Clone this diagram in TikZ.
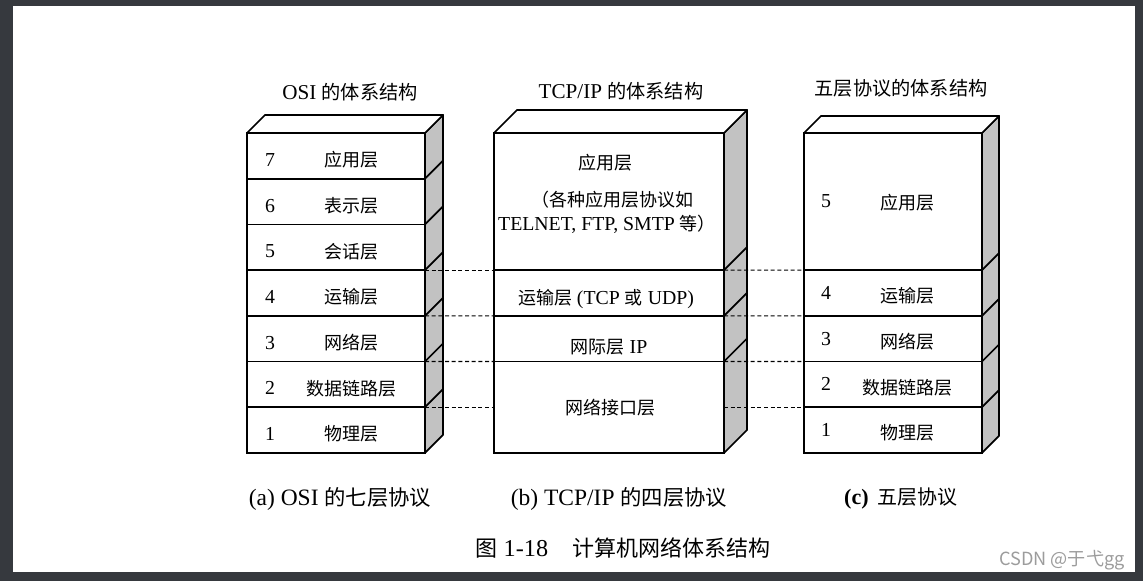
\documentclass[tikz,border=0pt]{standalone}
\usepackage{fontspec}
\setmainfont[Scale=1.1]{Liberation Serif}
\newfontfamily\cjk{Noto Sans CJK SC}
\newcommand{\zh}[1]{{\cjk #1}}
\usetikzlibrary{positioning}
\definecolor{framegray}{HTML}{36393E}
\definecolor{sidegray}{HTML}{C2C2C2}
\definecolor{markgray}{HTML}{9C9C9C}

\begin{document}
\begin{tikzpicture}[
        x=0.75pt, y=-0.75pt,
        layer/.style={draw, line width=1.3pt, fill=white, outer sep=0pt, inner sep=0pt, anchor=north west},
        osi layer/.style={layer, minimum width=133.5pt, minimum height=34.275pt},
        tcp layer/.style={layer, minimum width=172.5pt, minimum height=#1},
        five layer/.style={layer, minimum width=133.5pt, minimum height=#1},
        side face/.style={draw, line width=1.3pt, fill=sidegray, line join=round},
        top face/.style={draw, line width=1.3pt, fill=white, line join=round},
        edge line/.style={line width=1.3pt},
        link/.style={densely dashed, line width=0.8pt},
        num/.style={font=\fontsize{13.5}{16}\selectfont, inner sep=0pt},
        lbl/.style={font=\fontsize{13.5}{16}\selectfont, inner sep=0pt, align=center},
        head/.style={font=\fontsize{14.4}{17}\selectfont, inner sep=0pt},
        caption/.style={font=\fontsize{16}{19}\selectfont, inner sep=0pt},
    ]

    % Frame of the screenshot
    \fill[framegray] (0,0) rectangle (1143,581);
    \fill[white] (13,6) rectangle (1135,572);

    % (a) OSI stack
    \foreach \n/\name [count=\i from 0] in {7/应用层, 6/表示层, 5/会话层, 4/运输层, 3/网络层, 2/数据链路层, 1/物理层} {
        \node[osi layer] (osi\n) at (247, {133+45.7*\i}) {};
        \node[num] (osinum\n) at ([shift={(23,4)}]osi\n.west) {\n};
        \node[lbl] (osilbl\n) at ([shift={(15,4)}]osi\n.center) {\zh{\name}};
    }
    \filldraw[side face] (osi7.north east) -- ++(18,-18) -- ([shift={(18,-18)}]osi1.south east) -- (osi1.south east) -- cycle;
    \filldraw[top face] (osi7.north west) -- ++(18,-18) -- ([shift={(18,-18)}]osi7.north east) -- (osi7.north east) -- cycle;
    \foreach \n in {1,...,6} {
        \draw[edge line] (osi\n.north east) -- ++(18,-18);
    }

    % (b) TCP/IP stack
    \node[tcp layer=102.825pt] (tcp4) at (494,133) {};
    \node[tcp layer=34.275pt, below=0pt of tcp4] (tcp3) {};
    \node[tcp layer=34.275pt, below=0pt of tcp3] (tcp2) {};
    \node[tcp layer=68.625pt, below=0pt of tcp2] (tcp1) {};
    \filldraw[side face] (tcp4.north east) -- ++(23,-23) -- ([shift={(23,-23)}]tcp1.south east) -- (tcp1.south east) -- cycle;
    \filldraw[top face] (tcp4.north west) -- ++(23,-23) -- ([shift={(23,-23)}]tcp4.north east) -- (tcp4.north east) -- cycle;
    \foreach \n in {1,2,3} {
        \draw[edge line] (tcp\n.north east) -- ++(23,-23);
    }
    \node[lbl] (tcpapp) at (605,163) {\zh{应用层}};
    \node[lbl] (tcpnote1) at (612,200) {\zh{（各种应用层协议如}};
    \node[lbl] (tcpnote2) at (607,224) {TELNET, FTP, SMTP \zh{等）}};
    \node[lbl] (tcplbl3) at ([shift={(-3,6)}]tcp3.center) {\zh{运输层} (TCP \zh{或} UDP)};
    \node[lbl] (tcplbl2) at ([shift={(0,8)}]tcp2.center) {\zh{网际层} IP};
    \node[lbl] (tcplbl1) at ([shift={(1,0)}]tcp1.center) {\zh{网络接口层}};

    % (c) five-layer stack
    \node[five layer=102.825pt] (five5) at (804,133) {};
    \node[num] (fivenum5) at ([shift={(22,0)}]five5.west) {5};
    \node[lbl] (fivelbl5) at ([shift={(14,1)}]five5.center) {\zh{应用层}};
    \foreach \n/\name [count=\i from 0] in {4/运输层, 3/网络层, 2/数据链路层, 1/物理层} {
        \node[five layer=34.275pt] (five\n) at (804, {270.1+45.7*\i}) {};
        \node[num] (fivenum\n) at ([shift={(22,0)}]five\n.west) {\n};
        \node[lbl] (fivelbl\n) at ([shift={(14,3)}]five\n.center) {\zh{\name}};
    }
    \filldraw[side face] (five5.north east) -- ++(17,-17) -- ([shift={(17,-17)}]five1.south east) -- (five1.south east) -- cycle;
    \filldraw[top face] (five5.north west) -- ++(17,-17) -- ([shift={(17,-17)}]five5.north east) -- (five5.north east) -- cycle;
    \foreach \n in {1,...,4} {
        \draw[edge line] (five\n.north east) -- ++(17,-17);
    }

    % Dashed links between the stacks
    \draw[link] (osi4.north east) -- (tcp3.north west);
    \draw[link] (osi3.north east) -- (tcp2.north west);
    \draw[link] (osi2.north east) -- (tcp1.north west);
    \draw[link] (osi1.north east) -- (osi1.north east -| tcp1.west);
    \draw[link] (tcp3.north east) -- (five4.north west);
    \draw[link] (tcp2.north east) -- (five3.north west);
    \draw[link] (tcp1.north east) -- (five2.north west);
    \draw[link] (five1.north west -| tcp1.east) -- (five1.north west);

    % Titles
    \node[head] (osititle) at (350,92) {OSI \zh{的体系结构}};
    \node[head] (tcptitle) at (621,91) {TCP/IP \zh{的体系结构}};
    \node[head] (fivetitle) at (901,88) {\zh{五层协议的体系结构}};

    % Captions
    \node[caption] (capa) at (340,499) {(a) OSI \zh{的七层协议}};
    \node[caption] (capb) at (619,499) {(b) TCP/IP \zh{的四层协议}};
    \node[caption, font=\fontsize{15}{18}\selectfont] (capc) at (901,498) {\textbf{(c)}\, \zh{五层协议}};
    \node[caption, font=\fontsize{16.5}{19}\selectfont] (figcap) at (623,548) {\zh{图} 1-18\quad \zh{计算机网络体系结构}};

    % Watermark
    \node[font=\cjk\fontsize{13.6}{16}\selectfont, text=markgray, inner sep=0pt] (mark) at (1062,560) {CSDN @于弋gg};

\end{tikzpicture}
\end{document}
